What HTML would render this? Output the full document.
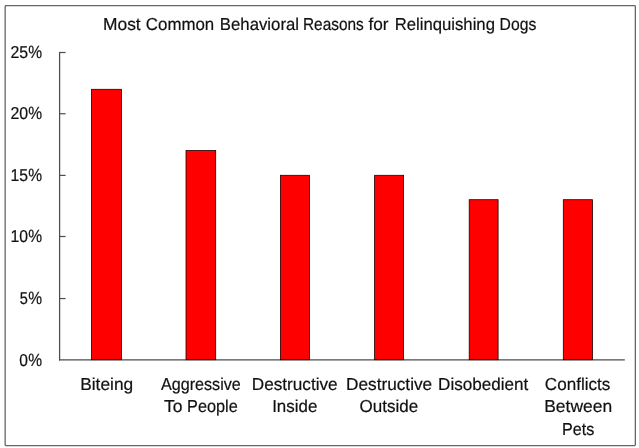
<!DOCTYPE html>
<html lang="en"><head><meta charset="utf-8"><title>Most Common Behavioral Reasons for Relinquishing Dogs</title>
<style>
html,body{margin:0;padding:0;background:#fff;}
svg{display:block;}
text{font-family:'Liberation Sans', sans-serif;fill:#111;stroke:#111;stroke-width:0.2;text-rendering:geometricPrecision;}
</style></head><body>
<svg width="639" height="448" viewBox="0 0 639 448">
<rect width="639" height="448" fill="#fff"/>
<rect x="5.15" y="5.6" width="630.20" height="440.00" rx="0.8" fill="#fff" stroke="#666" stroke-width="1.3"/>
<path d="M59.60 51.90V360.50" stroke="#4d4d4d" stroke-width="1.25" fill="none"/>
<path d="M59.00 359.90H624.80" stroke="#4d4d4d" stroke-width="1.25" fill="none"/>
<path d="M59.60 52.50H65.60" stroke="#4d4d4d" stroke-width="1.2" fill="none"/>
<path d="M59.60 113.75H65.60" stroke="#4d4d4d" stroke-width="1.2" fill="none"/>
<path d="M59.60 175.40H65.60" stroke="#4d4d4d" stroke-width="1.2" fill="none"/>
<path d="M59.60 236.50H65.60" stroke="#4d4d4d" stroke-width="1.2" fill="none"/>
<path d="M59.60 298.55H65.60" stroke="#4d4d4d" stroke-width="1.2" fill="none"/>
<rect x="91.50" y="89.30" width="30.00" height="270.40" fill="#ff0000" stroke="#200000" stroke-width="0.8"/>
<rect x="186.00" y="150.50" width="29.70" height="209.20" fill="#ff0000" stroke="#200000" stroke-width="0.8"/>
<rect x="280.40" y="175.30" width="29.10" height="184.40" fill="#ff0000" stroke="#200000" stroke-width="0.8"/>
<rect x="374.60" y="175.30" width="29.00" height="184.40" fill="#ff0000" stroke="#200000" stroke-width="0.8"/>
<rect x="469.20" y="199.70" width="28.90" height="160.00" fill="#ff0000" stroke="#200000" stroke-width="0.8"/>
<rect x="563.30" y="199.70" width="29.20" height="160.00" fill="#ff0000" stroke="#200000" stroke-width="0.8"/>
<text><tspan x="103.02" y="29.90" font-size="17.3" textLength="37.66" lengthAdjust="spacingAndGlyphs">Most</tspan> <tspan x="145.87" y="29.90" font-size="17.3" textLength="68.39" lengthAdjust="spacingAndGlyphs">Common</tspan> <tspan x="219.87" y="29.90" font-size="17.3" textLength="79.13" lengthAdjust="spacingAndGlyphs">Behavioral</tspan> <tspan x="302.97" y="29.90" font-size="17.3" textLength="60.86" lengthAdjust="spacingAndGlyphs">Reasons</tspan> <tspan x="368.38" y="29.90" font-size="17.3" textLength="20.10" lengthAdjust="spacingAndGlyphs">for</tspan> <tspan x="394.67" y="29.90" font-size="17.3" textLength="100.31" lengthAdjust="spacingAndGlyphs">Relinquishing</tspan> <tspan x="499.55" y="29.90" font-size="17.3" textLength="36.69" lengthAdjust="spacingAndGlyphs">Dogs</tspan></text>
<text><tspan x="10.41" y="57.50" font-size="17.2" textLength="17.67" lengthAdjust="spacingAndGlyphs">25</tspan><tspan x="28.36" y="57.50" font-size="17.8" textLength="13.83" lengthAdjust="spacingAndGlyphs">%</tspan></text>
<text><tspan x="10.41" y="119.10" font-size="17.2" textLength="17.67" lengthAdjust="spacingAndGlyphs">20</tspan><tspan x="28.36" y="119.10" font-size="17.8" textLength="13.83" lengthAdjust="spacingAndGlyphs">%</tspan></text>
<text><tspan x="10.56" y="180.70" font-size="17.2" textLength="17.52" lengthAdjust="spacingAndGlyphs">15</tspan><tspan x="28.36" y="180.70" font-size="17.8" textLength="13.83" lengthAdjust="spacingAndGlyphs">%</tspan></text>
<text><tspan x="10.56" y="242.30" font-size="17.2" textLength="17.52" lengthAdjust="spacingAndGlyphs">10</tspan><tspan x="28.36" y="242.30" font-size="17.8" textLength="13.83" lengthAdjust="spacingAndGlyphs">%</tspan></text>
<text><tspan x="19.87" y="303.90" font-size="17.2" textLength="8.11" lengthAdjust="spacingAndGlyphs">5</tspan><tspan x="28.36" y="303.90" font-size="17.8" textLength="13.83" lengthAdjust="spacingAndGlyphs">%</tspan></text>
<text><tspan x="19.33" y="365.50" font-size="17.2" textLength="8.68" lengthAdjust="spacingAndGlyphs">0</tspan><tspan x="28.36" y="365.50" font-size="17.8" textLength="13.83" lengthAdjust="spacingAndGlyphs">%</tspan></text>
<text><tspan x="80.22" y="389.90" font-size="17.3" textLength="52.95" lengthAdjust="spacingAndGlyphs">Biteing</tspan></text>
<text><tspan x="161.02" y="389.90" font-size="17.3" textLength="79.77" lengthAdjust="spacingAndGlyphs">Aggressive</tspan> <tspan x="163.95" y="411.90" font-size="17.3" textLength="18.50" lengthAdjust="spacingAndGlyphs">To</tspan> <tspan x="187.11" y="411.90" font-size="17.3" textLength="50.64" lengthAdjust="spacingAndGlyphs">People</tspan></text>
<text><tspan x="251.73" y="389.90" font-size="17.3" textLength="85.95" lengthAdjust="spacingAndGlyphs">Destructive</tspan> <tspan x="272.13" y="411.90" font-size="17.3" textLength="45.18" lengthAdjust="spacingAndGlyphs">Inside</tspan></text>
<text><tspan x="346.03" y="389.90" font-size="17.3" textLength="86.16" lengthAdjust="spacingAndGlyphs">Destructive</tspan> <tspan x="359.56" y="411.90" font-size="17.3" textLength="58.61" lengthAdjust="spacingAndGlyphs">Outside</tspan></text>
<text><tspan x="438.04" y="389.90" font-size="17.3" textLength="90.29" lengthAdjust="spacingAndGlyphs">Disobedient</tspan></text>
<text><tspan x="544.86" y="389.90" font-size="17.3" textLength="65.45" lengthAdjust="spacingAndGlyphs">Conflicts</tspan> <tspan x="544.21" y="411.90" font-size="17.3" textLength="67.91" lengthAdjust="spacingAndGlyphs">Between</tspan> <tspan x="561.91" y="434.90" font-size="17.3" textLength="32.34" lengthAdjust="spacingAndGlyphs">Pets</tspan></text>
</svg>
</body></html>
